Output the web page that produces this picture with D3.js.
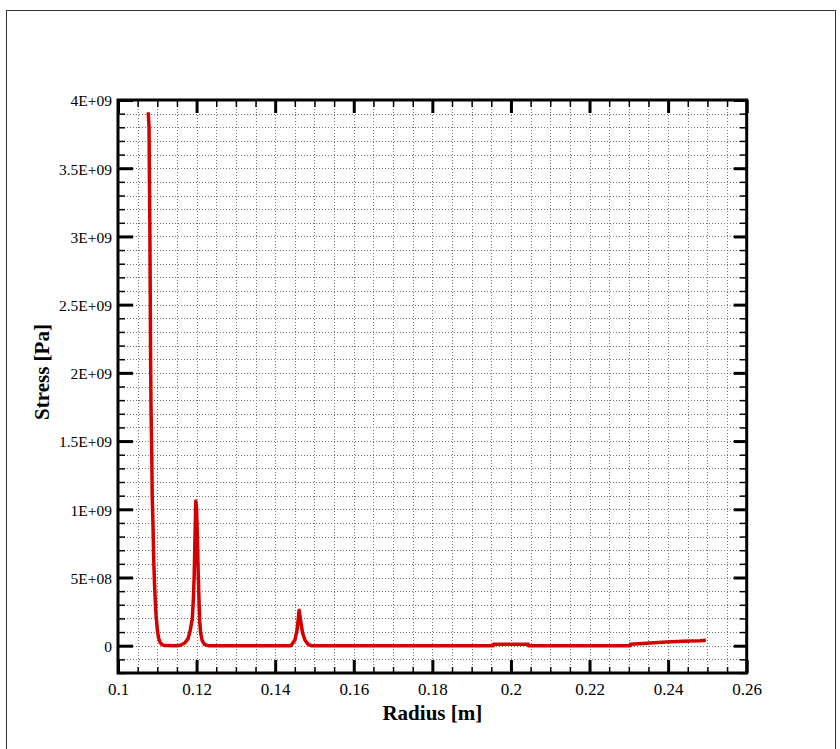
<!DOCTYPE html>
<html>
<head>
<meta charset="utf-8">
<script src="https://cdn.jsdelivr.net/npm/d3@7"></script>
<style>
  html, body { margin: 0; padding: 0; background: #fff; }
  svg { display: block; font-family: "Liberation Serif", "Times New Roman", serif; }
</style>
</head>
<body>
<svg id="chart" width="840" height="749"></svg>
<script>
// Radial stress profile
const radius = [
  0.1077, 0.1079, 0.1080, 0.1081, 0.1082, 0.1083, 0.1084, 0.1086, 0.1087, 0.1089,
  0.1091, 0.1093, 0.1095, 0.1097, 0.1100, 0.1103, 0.1107, 0.1112, 0.1120, 0.1150,
  0.1160, 0.1170, 0.1178, 0.1183, 0.1189, 0.1192, 0.1194, 0.1196, 0.1198, 0.1200,
  0.1202, 0.1204, 0.1206, 0.1208, 0.1210, 0.1214, 0.1220, 0.1230, 0.1440, 0.1450,
  0.1456, 0.1461, 0.1465, 0.1470, 0.1476, 0.1484, 0.1492, 0.1955, 0.1956, 0.2044,
  0.2045, 0.2303, 0.2304, 0.2354, 0.2396, 0.2438, 0.2481, 0.2496
];
const stress = [
  3.91e9, 3.80e9, 3.40e9, 3.10e9, 2.60e9, 2.10e9, 1.75e9, 1.40e9, 1.10e9, 0.90e9,
  0.62e9, 0.45e9, 0.32e9, 0.22e9, 0.12e9, 0.06e9, 0.025e9, 0.008e9, 0.001e9, 0,
  0.005e9, 0.02e9, 0.05e9, 0.10e9, 0.195e9, 0.35e9, 0.52e9, 0.80e9, 1.06e9, 1.00e9,
  0.80e9, 0.55e9, 0.35e9, 0.18e9, 0.10e9, 0.04e9, 0.01e9, 0, 0, 0.04e9,
  0.12e9, 0.26e9, 0.18e9, 0.09e9, 0.04e9, 0.01e9, 0, 0, 0.010e9, 0.010e9,
  0, 0, 0.010e9, 0.020e9, 0.027e9, 0.032e9, 0.037e9, 0.040e9
];

// Axis tick values
const xMajorTicks = [0.1, 0.12, 0.14, 0.16, 0.18, 0.2, 0.22, 0.24, 0.26];
const xMinorStep = 0.005;
const yMajorTicks = [0, 5e8, 1e9, 1.5e9, 2e9, 2.5e9, 3e9, 3.5e9, 4e9];
const yMinorStep = 1e8;

const xDomain = [0.1, 0.26];
const yDomain = [-2e8, 4e9];

const plot = { left: 118, right: 746.7, top: 100, bottom: 673 };

const svg = d3.select("#chart");

// outer frame
svg.append("rect")
  .attr("x", 6.5).attr("y", 10.5)
  .attr("width", 829).attr("height", 770)
  .attr("fill", "none").attr("stroke", "#333").attr("stroke-width", 1);

const x = d3.scaleLinear().domain(xDomain).range([plot.left, plot.right]);
const y = d3.scaleLinear().domain(yDomain).range([plot.bottom, plot.top]);

const xMinorTicks = d3.range(Math.round((xDomain[1] - xDomain[0]) / xMinorStep) + 1)
  .map(i => +(xDomain[0] + i * xMinorStep).toFixed(4));
const yMinorTicks = d3.range(Math.round((yDomain[1] - yDomain[0]) / yMinorStep) + 1)
  .map(i => yDomain[0] + i * yMinorStep);

// dotted grid
const grid = svg.append("g")
  .attr("stroke", "#777").attr("stroke-width", 1).attr("stroke-dasharray", "1,2");
grid.selectAll("line.gx")
  .data(xMinorTicks.filter(v => v > xDomain[0] + 1e-9 && v < xDomain[1] - 1e-9))
  .join("line").attr("class", "gx")
  .attr("x1", d => Math.round(x(d)) + 0.5).attr("x2", d => Math.round(x(d)) + 0.5)
  .attr("y1", plot.top).attr("y2", plot.bottom);
grid.selectAll("line.gy")
  .data(yMinorTicks.filter(v => v > yDomain[0] && v < yDomain[1]))
  .join("line").attr("class", "gy")
  .attr("y1", d => Math.round(y(d)) + 0.5).attr("y2", d => Math.round(y(d)) + 0.5)
  .attr("x1", plot.left).attr("x2", plot.right);

// stress curve
const line = d3.line().x((d, i) => x(radius[i])).y(d => y(d));
svg.append("path")
  .datum(stress)
  .attr("d", line)
  .attr("fill", "none")
  .attr("stroke", "#d40000")
  .attr("stroke-width", 3.5)
  .attr("stroke-linejoin", "round")
  .attr("stroke-linecap", "butt");

// number format for the stress axis, e.g. 3.5E+09
function sciFormat(v) {
  if (v === 0) return "0";
  const e = Math.floor(Math.log10(Math.abs(v)) + 1e-9);
  const m = +(v / Math.pow(10, e)).toFixed(3);
  return m + "E+" + String(e).padStart(2, "0");
}

function styleAxis(g, width, major) {
  g.select(".domain").remove();
  g.selectAll(".tick line").attr("stroke", "#000").attr("stroke-width", width);
  if (!major) g.selectAll(".tick text").remove();
}

// minor ticks, all four sides, pointing inward
svg.append("g").attr("transform", `translate(0,${plot.bottom})`)
  .call(d3.axisBottom(x).tickValues(xMinorTicks).tickSize(-6).tickFormat(""))
  .call(g => styleAxis(g, 1.5, false));
svg.append("g").attr("transform", `translate(0,${plot.top})`)
  .call(d3.axisTop(x).tickValues(xMinorTicks).tickSize(-7).tickFormat(""))
  .call(g => styleAxis(g, 1.5, false));
svg.append("g").attr("transform", `translate(${plot.left},0)`)
  .call(d3.axisLeft(y).tickValues(yMinorTicks).tickSize(-7).tickFormat(""))
  .call(g => styleAxis(g, 1.5, false));
svg.append("g").attr("transform", `translate(${plot.right},0)`)
  .call(d3.axisRight(y).tickValues(yMinorTicks).tickSize(-7).tickFormat(""))
  .call(g => styleAxis(g, 1.5, false));

// major ticks with labels
const xAxis = svg.append("g").attr("transform", `translate(0,${plot.bottom})`)
  .call(d3.axisBottom(x).tickValues(xMajorTicks).tickSize(-13).tickPadding(10)
    .tickFormat(d => String(+d.toFixed(2))))
  .call(g => styleAxis(g, 3, true));
xAxis.selectAll(".tick text")
  .style("font-family", "'Liberation Serif', 'Times New Roman', serif")
  .style("font-size", "17px").attr("fill", "#000");

svg.append("g").attr("transform", `translate(0,${plot.top})`)
  .call(d3.axisTop(x).tickValues(xMajorTicks).tickSize(-13).tickFormat(""))
  .call(g => styleAxis(g, 3, false));

const yAxis = svg.append("g").attr("transform", `translate(${plot.left},0)`)
  .call(d3.axisLeft(y).tickValues(yMajorTicks).tickSize(-15).tickPadding(6)
    .tickFormat(sciFormat))
  .call(g => styleAxis(g, 3, true));
yAxis.selectAll(".tick text")
  .style("font-family", "'Liberation Serif', 'Times New Roman', serif")
  .style("font-size", "15.5px").attr("fill", "#000").attr("dy", "0.38em");

svg.append("g").attr("transform", `translate(${plot.right},0)`)
  .call(d3.axisRight(y).tickValues(yMajorTicks).tickSize(-13).tickFormat(""))
  .call(g => styleAxis(g, 3, false));

// plot frame
svg.append("rect")
  .attr("x", plot.left).attr("y", plot.top)
  .attr("width", plot.right - plot.left).attr("height", plot.bottom - plot.top)
  .attr("fill", "none").attr("stroke", "#000").attr("stroke-width", 3);

// axis titles
svg.append("text")
  .attr("x", (plot.left + plot.right) / 2).attr("y", 720)
  .attr("text-anchor", "middle")
  .attr("font-size", 21).attr("font-weight", "bold")
  .text("Radius [m]");

svg.append("text")
  .attr("transform", "translate(49,372) rotate(-90)")
  .attr("text-anchor", "middle")
  .attr("font-size", 21).attr("font-weight", "bold")
  .text("Stress [Pa]");
</script>
</body>
</html>
